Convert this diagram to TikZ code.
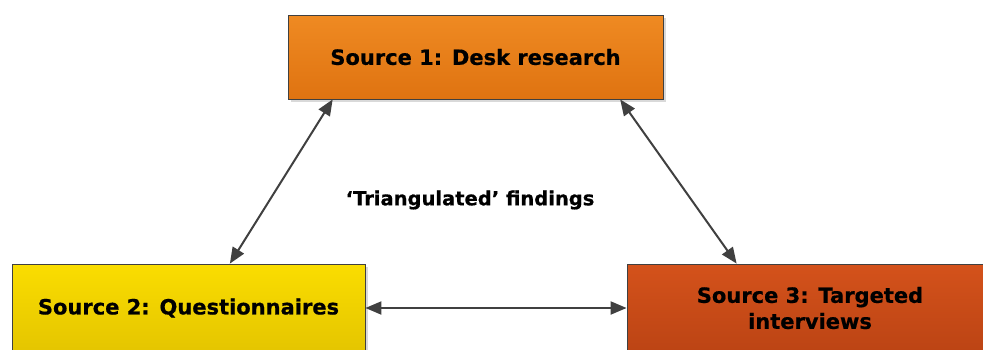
\documentclass[tikz,border=0pt]{standalone}
\usepackage{fontspec}
\setmainfont{DejaVu Sans}[BoldFeatures={FakeBold=0.6}]
\usetikzlibrary{arrows.meta,shadows,calc}
\definecolor{o1t}{HTML}{EF8A22}
\definecolor{o1b}{HTML}{DF7311}
\definecolor{y2t}{HTML}{FADD00}
\definecolor{y2b}{HTML}{E4C500}
\definecolor{r3t}{HTML}{D4521B}
\definecolor{r3b}{HTML}{BC4414}
\definecolor{edge}{HTML}{404040}
\tikzset{
  srcbox/.style={draw=edge, line width=0.8pt, inner sep=0pt, align=center,
    font=\fontsize{21}{26}\selectfont\bfseries,
    drop shadow={shadow xshift=3pt, shadow yshift=-3pt, opacity=0.25, fill=black!60}},
  link/.style={draw=edge, line width=2pt, {Triangle[length=16pt,width=13pt]}-{Triangle[length=16pt,width=13pt]}},
  midlabel/.style={font=\fontsize{19.5}{23}\selectfont\bfseries}
}
\begin{document}
\begin{tikzpicture}[x=1pt,y=1pt]
\useasboundingbox (0,0) rectangle (983,-349);
\node[srcbox, minimum width=375pt, minimum height=84pt, top color=o1t, bottom color=o1b] (b1) at (475.5,-57) {Source 1: Desk research};
\node[srcbox, minimum width=353pt, minimum height=88pt, top color=y2t, bottom color=y2b] (b2) at (188.5,-308) {Source 2: Questionnaires};
\node[srcbox, minimum width=366pt, minimum height=88pt, top color=r3t, bottom color=r3b] (b3) at (810,-308) {Source 3: Targeted\\interviews};
\node[midlabel] (mid) at (470,-200) {‘Triangulated’ findings};
\draw[link] ($(b1.south west)!0.12!(b1.south east)$) -- ($(b2.north west)!0.617!(b2.north east)$);
\draw[link] ($(b1.south west)!0.885!(b1.south east)$) -- ($(b3.north west)!0.30!(b3.north east)$);
\draw[link] (b2.east) -- (b3.west);
\end{tikzpicture}
\end{document}
